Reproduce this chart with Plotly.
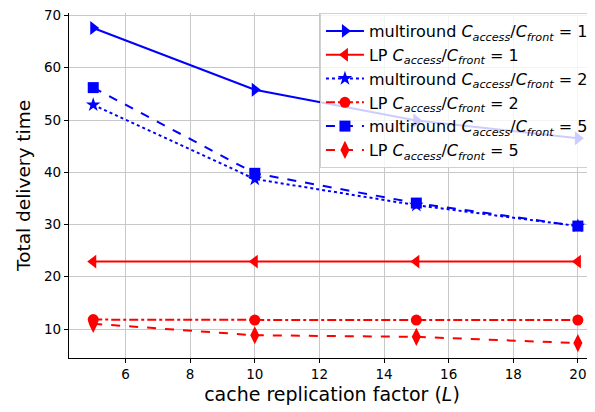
import plotly.graph_objects as go

L = [5, 10, 15, 20]
multiround_1 = [67.6, 55.8, 49.9, 46.5]
lp_1 = [22.9, 22.9, 22.9, 22.9]
multiround_2 = [52.9, 38.7, 33.7, 29.7]
lp_2 = [11.8, 11.7, 11.7, 11.7]
multiround_5 = [56.2, 39.8, 34.1, 29.7]
lp_5 = [11.0, 8.8, 8.5, 7.3]

def lab(prefix, r):
    return f"{prefix} <i>C</i><sub><i>access</i></sub>/<i>C</i><sub><i>front</i></sub> = {r}"

BLUE = "#0000ff"
RED = "#ff0000"

series = [
    (lab("multiround", 1), multiround_1, BLUE, "solid", "triangle-right", 12),
    (lab("LP", 1), lp_1, RED, "solid", "triangle-left", 12),
    (lab("multiround", 2), multiround_2, BLUE, "dot", "star", 11),
    (lab("LP", 2), lp_2, RED, "dashdot", "circle", 11),
    (lab("multiround", 5), multiround_5, BLUE, "dash", "square", 11),
    (lab("LP", 5), lp_5, RED, "dash", "diamond-tall", 13),
]

fig = go.Figure()
for name, ys, color, dash, sym, size in series:
    fig.add_trace(go.Scatter(
        x=L, y=ys, name=name, mode="lines+markers",
        line=dict(color=color, width=2, dash=dash),
        marker=dict(symbol=sym, size=size, color=color, line=dict(width=0)),
        cliponaxis=False,
    ))

# the page body has an 8px margin, so the figure is sized to fit the window
fig.update_layout(
    width=587, height=404,
    margin=dict(l=61, r=0, t=5, b=54),
    plot_bgcolor="white", paper_bgcolor="white",
    font=dict(family="DejaVu Sans", color="black"),
    showlegend=True,
    legend=dict(
        x=0.998, y=1.0, xanchor="right", yanchor="top",
        bgcolor="rgba(255,255,255,0.8)", bordercolor="#d0d0d0", borderwidth=1,
        font=dict(size=16, family="DejaVu Sans"),
        itemwidth=38, tracegroupgap=0,
    ),
    xaxis=dict(
        range=[4.25, 20.53], tickvals=[6, 8, 10, 12, 14, 16, 18, 20],
        showgrid=True, gridcolor="#c8c8c8", gridwidth=1,
        showline=True, linecolor="black", linewidth=1.2,
        ticks="outside", ticklen=4, tickcolor="black",
        tickfont=dict(size=13.5), ticklabeloverflow="allow",
        zeroline=False, automargin=False,
        title=dict(text="cache replication factor (<i>L</i>)", font=dict(size=19), standoff=6),
    ),
    yaxis=dict(
        range=[4.45, 70.48], tickvals=[10, 20, 30, 40, 50, 60, 70],
        showgrid=True, gridcolor="#c8c8c8", gridwidth=1,
        showline=True, linecolor="black", linewidth=1.2,
        ticks="outside", ticklen=4, tickcolor="black",
        tickfont=dict(size=13.5), ticklabeloverflow="allow",
        zeroline=False, automargin=False,
        title=dict(text="Total delivery time", font=dict(size=18.5), standoff=8),
    ),
)

fig.write_html("out.html")
